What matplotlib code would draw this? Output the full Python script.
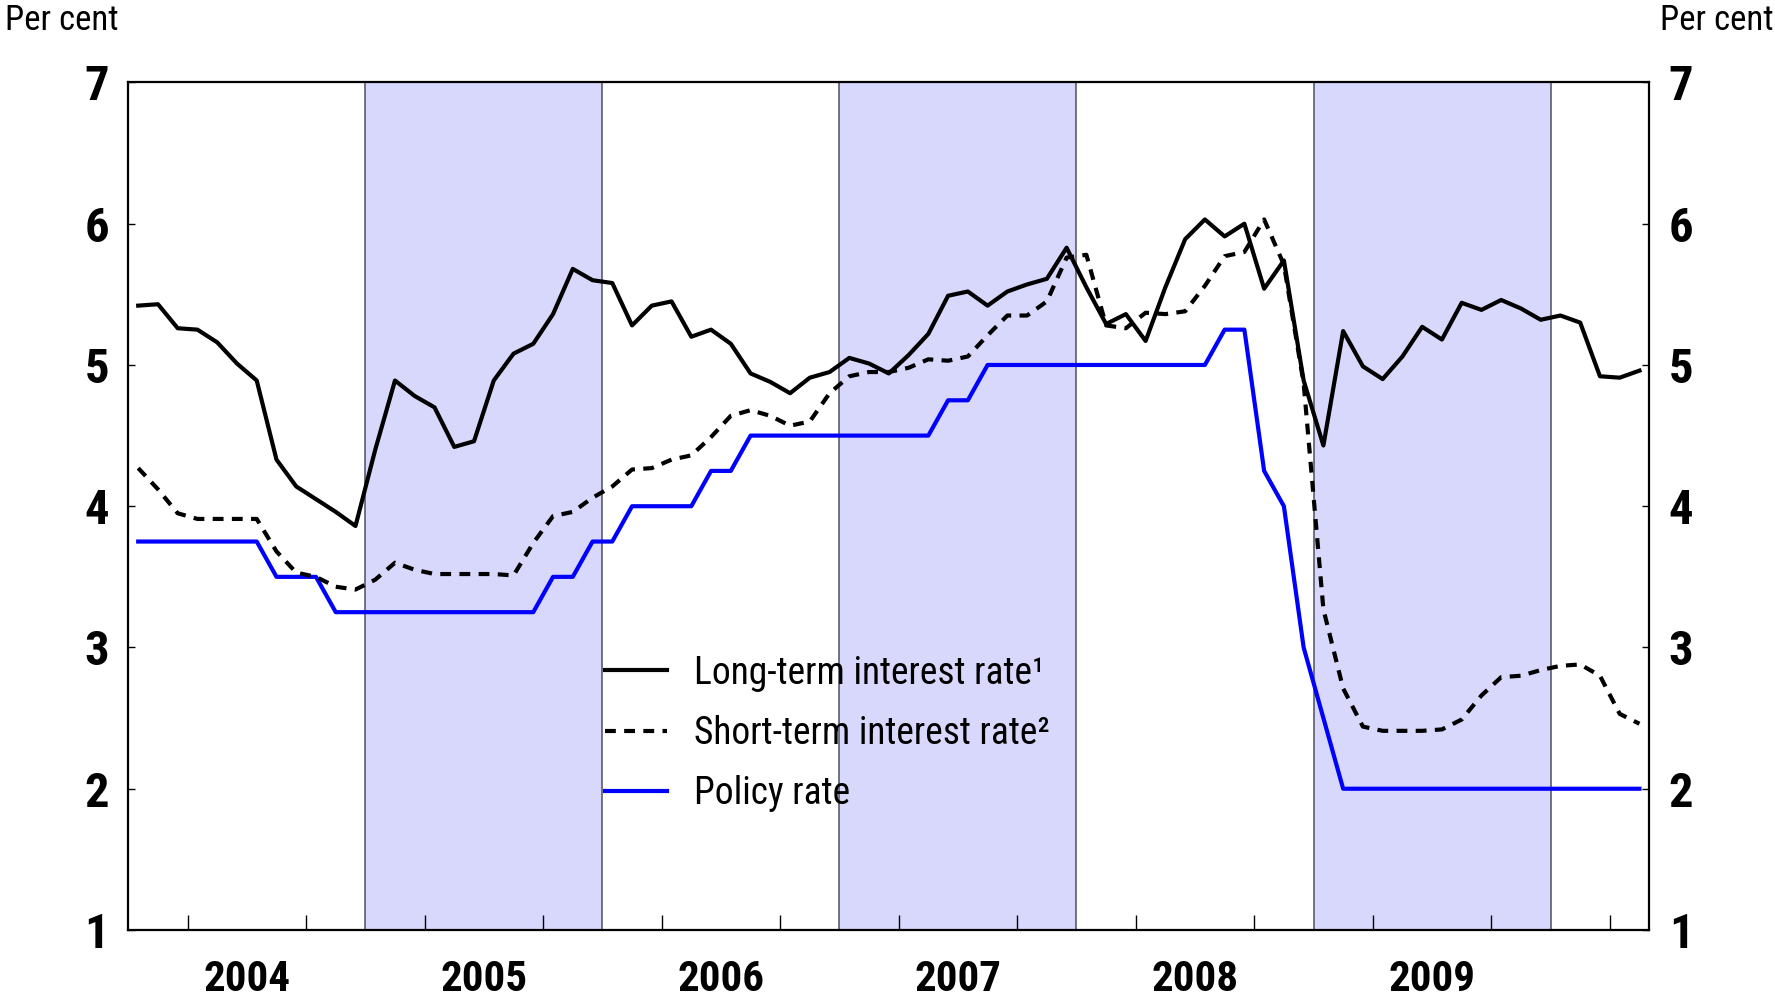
import numpy as np
import matplotlib
matplotlib.use("Agg")
import matplotlib.pyplot as plt

# ---------------- data (monthly, Jan 2004 - May 2010) ----------------
years = ["2004", "2005", "2006", "2007", "2008", "2009"]

long_term = [5.42, 5.43, 5.26, 5.25, 5.16, 5.01, 4.89, 4.33, 4.14, 4.05, 3.96, 3.86,
             4.40, 4.89, 4.78, 4.70, 4.42, 4.46, 4.89, 5.08, 5.15, 5.36, 5.68, 5.60,
             5.58, 5.28, 5.42, 5.45, 5.20, 5.25, 5.15, 4.94, 4.88, 4.80, 4.91, 4.95,
             5.05, 5.01, 4.94, 5.07, 5.22, 5.49, 5.52, 5.42, 5.52, 5.57, 5.61, 5.83,
             5.55, 5.29, 5.36, 5.17, 5.55, 5.89, 6.03, 5.91, 6.00, 5.54, 5.74, 4.89,
             4.43, 5.24, 4.99, 4.90, 5.06, 5.27, 5.18, 5.44, 5.39, 5.46, 5.40, 5.32,
             5.35, 5.30, 4.92, 4.91, 4.96]

short_term = [4.27, 4.12, 3.95, 3.91, 3.91, 3.91, 3.91, 3.68, 3.53, 3.50, 3.43, 3.41,
              3.48, 3.60, 3.55, 3.52, 3.52, 3.52, 3.52, 3.51, 3.74, 3.93, 3.96, 4.06,
              4.14, 4.26, 4.27, 4.33, 4.36, 4.49, 4.64, 4.68, 4.64, 4.57, 4.60, 4.80,
              4.92, 4.95, 4.95, 4.98, 5.04, 5.03, 5.06, 5.21, 5.35, 5.35, 5.45, 5.76,
              5.78, 5.28, 5.26, 5.37, 5.36, 5.38, 5.56, 5.77, 5.80, 6.03, 5.71, 4.87,
              3.27, 2.71, 2.44, 2.41, 2.41, 2.41, 2.42, 2.49, 2.66, 2.79, 2.80, 2.84,
              2.87, 2.88, 2.80, 2.53, 2.46]

policy_rate = [3.75, 3.75, 3.75, 3.75, 3.75, 3.75, 3.75, 3.50, 3.50, 3.50, 3.25, 3.25,
               3.25, 3.25, 3.25, 3.25, 3.25, 3.25, 3.25, 3.25, 3.25, 3.50, 3.50, 3.75,
               3.75, 4.00, 4.00, 4.00, 4.00, 4.25, 4.25, 4.50, 4.50, 4.50, 4.50, 4.50,
               4.50, 4.50, 4.50, 4.50, 4.50, 4.75, 4.75, 5.00, 5.00, 5.00, 5.00, 5.00,
               5.00, 5.00, 5.00, 5.00, 5.00, 5.00, 5.00, 5.25, 5.25, 4.25, 4.00, 3.00,
               2.50, 2.00, 2.00, 2.00, 2.00, 2.00, 2.00, 2.00, 2.00, 2.00, 2.00, 2.00,
               2.00, 2.00, 2.00, 2.00, 2.00]

labels = ["Long-term interest rate\u00b9", "Short-term interest rate\u00b2", "Policy rate"]
y_ticks = [1, 2, 3, 4, 5, 6, 7]

# ---------------- style ----------------
plt.rcParams["font.family"] = ["Roboto Condensed", "Liberation Sans", "DejaVu Sans"]

fig = plt.figure(figsize=(17.75, 9.97), dpi=100)
ax = fig.add_axes([0.0723, 0.0672, 0.8569, 0.8501])

n = len(long_term)
x = np.arange(n) + 0.5          # month centres, month index units
n_months_axis = 77

# alternate year shading and year separators
for k, _ in enumerate(years + ["2010"]):
    start = 12 * k
    if k % 2 == 1:
        ax.axvspan(start, start + 12, color="#d8d8fc", lw=0, zorder=0)
    if start > 0:
        ax.axvline(start, color="#505060", lw=1.1, zorder=1)

LW = 3.0
ax.plot(x, long_term, color="black", lw=LW, label=labels[0], zorder=4)
ax.plot(x, short_term, color="black", lw=LW, ls=(0, (2.6, 2.0)), label=labels[1], zorder=3)
ax.plot(x, policy_rate, color="#0000ff", lw=LW, label=labels[2], zorder=2)

ax.set_xlim(0, n_months_axis)
ax.set_ylim(1, 7)

# y axis: both sides
ax.set_yticks(y_ticks)
ax.set_yticklabels([str(v) for v in y_ticks])
ax.tick_params(axis="y", direction="in", length=5, width=1, left=True, right=True,
               labelleft=True, labelright=True, labelsize=35, pad=14)
for lab in ax.get_yticklabels():
    lab.set_fontweight("bold")

# x axis: quarter ticks, year labels centred
quarter_ticks = [12 * k + q for k in range(len(years) + 1) for q in (3, 6, 9)
                 if 12 * k + q < n_months_axis]
ax.set_xticks(quarter_ticks, minor=True)
ax.set_xticks([12 * k + 6 for k in range(len(years))])
ax.set_xticklabels(years)
ax.tick_params(axis="x", which="minor", direction="in", length=11, width=1)
ax.tick_params(axis="x", which="major", length=0, labelsize=31, pad=21)
for lab in ax.get_xticklabels():
    lab.set_fontweight("bold")

for sp in ax.spines.values():
    sp.set_linewidth(1.6)
    sp.set_color("black")
    sp.set_zorder(5)

fig.text(0.003, 0.996, "Per cent", ha="left", va="top", fontsize=25)
fig.text(0.999, 0.996, "Per cent", ha="right", va="top", fontsize=25)

leg = ax.legend(loc="center left", bbox_to_anchor=(0.3135, 0.232), frameon=False,
                prop={"size": 27}, handlelength=1.65, handletextpad=0.72,
                labelspacing=0.62, borderpad=0, borderaxespad=0)

fig.savefig("out.png", dpi=100)
